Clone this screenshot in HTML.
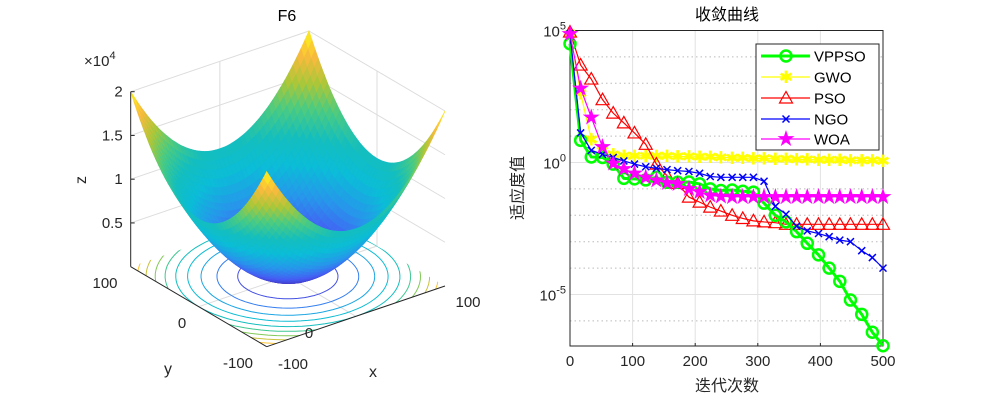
<!DOCTYPE html>
<html><head><meta charset="utf-8">
<style>
body{margin:0;background:#fff;}
svg{display:block;font-family:"Liberation Sans","Noto Sans CJK SC",sans-serif;}
</style></head>
<body>
<svg id="root" width="1000" height="400" viewBox="0 0 1000 400">
<rect width="1000" height="400" fill="#fff"/>
<g id="left"></g>
<g id="right"></g>
</svg>
<script>
// ---------- convergence data (log10 values) ----------
const iters = [0,17,34,52,69,86,103,121,138,155,172,190,207,224,241,259,276,293,310,328,345,362,379,397,414,431,448,466,483,500];
const vppso = [4.50,0.84,0.21,0.19,-0.06,-0.60,-0.62,-0.66,-0.56,-0.75,-0.75,-0.74,-0.81,-1.00,-1.06,-1.04,-1.09,-1.12,-1.54,-2.00,-2.25,-2.62,-3.06,-3.50,-4.00,-4.50,-5.21,-5.75,-6.43,-6.94];
const gwo = [4.87,2.62,0.88,0.45,0.31,0.25,0.25,0.25,0.25,0.24,0.23,0.22,0.21,0.20,0.19,0.18,0.17,0.16,0.15,0.14,0.13,0.12,0.11,0.10,0.10,0.09,0.08,0.07,0.07,0.06];
const pso = [4.94,3.69,3.16,2.38,1.87,1.50,1.12,0.69,-0.06,-0.50,-0.79,-1.31,-1.50,-1.69,-1.84,-2.00,-2.12,-2.21,-2.25,-2.28,-2.34,-2.34,-2.34,-2.34,-2.34,-2.34,-2.34,-2.34,-2.34,-2.34];
const ngo = [4.87,1.12,0.46,0.31,0.19,0.06,-0.06,-0.16,-0.22,-0.27,-0.31,-0.34,-0.41,-0.53,-0.56,-0.56,-0.56,-0.56,-0.71,-1.66,-1.96,-2.41,-2.59,-2.69,-2.81,-2.94,-3.00,-3.34,-3.60,-4.00];
const woa = [4.87,2.81,1.71,0.59,-0.04,-0.25,-0.41,-0.56,-0.69,-0.77,-0.81,-1.00,-1.12,-1.25,-1.28,-1.30,-1.30,-1.30,-1.30,-1.30,-1.30,-1.30,-1.30,-1.30,-1.30,-1.30,-1.30,-1.30,-1.30,-1.30];
const seriesNames = ["VPPSO","GWO","PSO","NGO","WOA"];
const xTicks = [0,100,200,300,400,500];
const yTicks = [5,0,-5];

const NS="http://www.w3.org/2000/svg";
function el(tag,attrs,parent){const e=document.createElementNS(NS,tag);for(const k in attrs)e.setAttribute(k,attrs[k]);parent.appendChild(e);return e;}

// ---------- right chart ----------
const R=document.getElementById('right');
const AX={l:570,r:883,t:30.5,b:346};
const YMIN=-6.95,YMAX=5;
const sx=v=>AX.l+(v-0)/(500-0)*(AX.r-AX.l);
const sy=v=>AX.b-(v-YMIN)/(YMAX-YMIN)*(AX.b-AX.t);
for(let d=-6;d<=4;d++){ if(yTicks.includes(d))continue;
  const g=el('line',{x1:AX.l,x2:AX.r,y1:sy(d),y2:sy(d),stroke:'#bbb','stroke-width':1,'stroke-dasharray':'1.5,3'},R);
  
  
}
xTicks.forEach(t=>{
  const g=el('line',{x1:sx(t),x2:sx(t),y1:AX.t,y2:AX.b,stroke:'#e2e2e2','stroke-width':1},R);
  
  
  const tk=el('line',{x1:sx(t),x2:sx(t),y1:AX.b,y2:AX.b-3,stroke:'#262626'},R);
  
  
  const tx=el('text',{x:sx(t),y:AX.b+20,'text-anchor':'middle','font-size':15,fill:'#262626'},R);
  tx.textContent=t;
  
  
});
yTicks.forEach(t=>{
  const g=el('line',{x1:AX.l,x2:AX.r,y1:sy(t),y2:sy(t),stroke:'#e2e2e2','stroke-width':1},R);
  
  
  const tx=el('text',{x:AX.l-4,y:sy(t)+6,'text-anchor':'end','font-size':15,fill:'#262626'},R);
  tx.innerHTML='10<tspan dy="-7" font-size="11">'+t+'</tspan>';
  
  
});
const box=el('rect',{x:AX.l,y:AX.t,width:AX.r-AX.l,height:AX.b-AX.t,fill:'none',stroke:'#262626','stroke-width':1},R);



function marker(type,x,y,color,g){
  let m;
  if(type==='o'){m=el('circle',{cx:x,cy:y,r:5.5,fill:'none',stroke:color,'stroke-width':2.5},g);}
  else if(type==='*'){m=el('text',{x:x,y:y+6,'text-anchor':'middle','font-size':17,fill:color},g);m.textContent='✱';}
  else if(type==='^'){m=el('polygon',{points:`${x},${y-6.5} ${x-6.5},${y+5} ${x+6.5},${y+5}`,fill:'none',stroke:color,'stroke-width':1.2},g);}
  else if(type==='x'){m=el('path',{d:`M${x-3.5},${y-3.5}L${x+3.5},${y+3.5}M${x-3.5},${y+3.5}L${x+3.5},${y-3.5}`,stroke:color,'stroke-width':1.5},g);}
  else if(type==='p'){m=el('text',{x:x,y:y+6,'text-anchor':'middle','font-size':18,fill:color},g);m.textContent='★';}
  
  
}
const specs=[[vppso,'#00ff00','o',3],[gwo,'#ffff00','*',1.2],[pso,'#ff0000','^',1.2],[ngo,'#0000ff','x',1.2],[woa,'#ff00ff','p',1.2]];
const order=[1,2,0,3,4];
order.forEach(i=>{
  const [data,color,mk,w]=specs[i];
  const g=el('g',{},R);
  
  
  const pts=data.map((v,j)=>sx(iters[j])+','+sy(v)).join(' ');
  const pl=el('polyline',{points:pts,fill:'none',stroke:color,'stroke-width':w},g);
  
  
  data.forEach((v,j)=>marker(mk,sx(iters[j]),sy(v),color,g));
});
const L=el('g',{},R);


const lb=el('rect',{x:756,y:44,width:123,height:106,fill:'#fff',stroke:'#262626'},L);


const ly=[56,77,98,119,139];
seriesNames.forEach((n,i)=>{
  const [data,color,mk,w]=specs[i];
  const g=el('g',{},L);
  
  
  el('line',{x1:761,x2:810,y1:ly[i],y2:ly[i],stroke:color,'stroke-width':w},g);
  marker(mk,786,ly[i],color,g);
  const t=el('text',{x:814,y:ly[i]+5.5,'font-size':15,fill:'#000'},g);
  t.textContent=n;
});
let t;
t=el('text',{x:727,y:20,'text-anchor':'middle','font-size':16,fill:'#000'},R);t.textContent='收敛曲线';

t=el('text',{x:727,y:391,'text-anchor':'middle','font-size':16,fill:'#262626'},R);t.textContent='迭代次数';

t=el('text',{x:0,y:0,'text-anchor':'middle','font-size':16,fill:'#262626',transform:'translate(523,188) rotate(-90)'},R);t.textContent='适应度值';


// ---------- left surface ----------
const S=document.getElementById('left');
const O=[266.7,346.7], EX=[178.3,-60.7], EY=[-136,-80], K=175/20000;
function P(x,y,z){const a=(x+100)/200,b=(y+100)/200;return [O[0]+EX[0]*a+EY[0]*b, O[1]+EX[1]*a+EY[1]*b-z*K];}
const stops=[[0,[62,38,168]],[0.13,[70,92,244]],[0.25,[39,150,235]],[0.38,[11,189,215]],[0.5,[20,190,190]],[0.63,[74,203,130]],[0.75,[170,199,57]],[0.88,[252,186,61]],[1,[249,251,21]]];
function cmap(v){v=Math.max(0,Math.min(1,v));for(let i=1;i<stops.length;i++){if(v<=stops[i][0]){const [a,ca]=stops[i-1],[b,cb]=stops[i];const f=(v-a)/(b-a);return 'rgb('+ca.map((c,k)=>Math.round(c+(cb[k]-c)*f)).join(',')+')';}}return 'rgb(249,251,21)';}
const pstr=p=>p[0].toFixed(1)+','+p[1].toFixed(1);
function gl(a,b,name){const l=el('line',{x1:a[0],y1:a[1],x2:b[0],y2:b[1],stroke:'#dcdcdc','stroke-width':1},S);}
[5000,10000,15000,20000].forEach(z=>{gl(P(-100,100,z),P(100,100,z),'z-gridline');gl(P(100,100,z),P(100,-100,z),'z-gridline');});
gl(P(0,100,0),P(0,100,20000),'x-gridline');gl(P(100,0,0),P(100,0,20000),'y-gridline');gl(P(100,100,0),P(100,100,20000),'wall-edge');
gl(P(-100,0,0),P(100,0,0),'floor-gridline');gl(P(0,-100,0),P(0,100,0),'floor-gridline');
const cp=el('clipPath',{id:'floorclip'},S);
el('polygon',{points:[P(-100,-100,0),P(100,-100,0),P(100,100,0),P(-100,100,0)].map(pstr).join(' ')},cp);
const cg=el('g',{'clip-path':'url(#floorclip)'},S);

const levels=[2000,4000,6000,8000,10000,12000,14000,16000,18000];
levels.forEach(lv=>{const r=Math.sqrt(lv);const pts=[];for(let i=0;i<=90;i++){const a=i/90*2*Math.PI;pts.push(pstr(P(r*Math.cos(a),r*Math.sin(a),0)));}
  const c=el('polyline',{points:pts.join(' '),fill:'none',stroke:cmap(lv/20000),'stroke-width':1},cg);
  });
const sg=el('g',{},S);

const N=44,quads=[];
for(let i=0;i<N;i++)for(let j=0;j<N;j++){
  const x0=-100+200*i/N,x1=-100+200*(i+1)/N,y0=-100+200*j/N,y1=-100+200*(j+1)/N;
  const f=(x,y)=>x*x+y*y;
  const z=(f(x0,y0)+f(x1,y0)+f(x1,y1)+f(x0,y1))/4;
  quads.push({d:(x0+x1+y0+y1),pts:[P(x0,y0,f(x0,y0)),P(x1,y0,f(x1,y0)),P(x1,y1,f(x1,y1)),P(x0,y1,f(x0,y1))],c:cmap(z/20000)});
}
quads.sort((a,b)=>b.d-a.d);
quads.forEach(q=>{el('polygon',{points:q.pts.map(pstr).join(' '),fill:q.c,stroke:q.c,'stroke-width':0.8},sg);});
function al(a,b,name){const l=el('line',{x1:a[0],y1:a[1],x2:b[0],y2:b[1],stroke:'#262626','stroke-width':1},S);}
al(P(-100,100,0),P(-100,100,20000),'z-axis');
al(P(-100,100,0),P(-100,-100,0),'y-axis');
al(P(-100,-100,0),P(100,-100,0),'x-axis');
function lab(x,y,s,name,anchor,extra){const t=el('text',Object.assign({x:x,y:y,'text-anchor':anchor||'middle','font-size':15,fill:'#262626'},extra||{}),S);t.textContent=s;return t;}
[[5000,'0.5'],[10000,'1'],[15000,'1.5'],[20000,'2']].forEach(([z,s])=>{const p=P(-100,100,z);al(p,[p[0]+4,p[1]],'z-tick');lab(p[0]-8,p[1]+5,s,'z-tick-label','end');});
lab(105,288,'100','y-tick-label');lab(182,328,'0','y-tick-label');lab(238,368,'-100','y-tick-label');
lab(293,369,'-100','x-tick-label');lab(309,338,'0','x-tick-label');lab(468,307,'100','x-tick-label');
lab(168,374,'y','y-axis-title','middle',{'font-size':16});lab(373,377,'x','x-axis-title','middle',{'font-size':16});
lab(0,0,'z','z-axis-title','middle',{transform:'translate(86,180) rotate(-90)','font-size':16});
const ex=lab(84,66,'','z-exponent','start');ex.innerHTML='×10<tspan dy="-7" font-size="11">4</tspan>';
lab(287,21,'F6','surface-title','middle',{'font-size':16,fill:'#000'});
</script>
</body></html>
